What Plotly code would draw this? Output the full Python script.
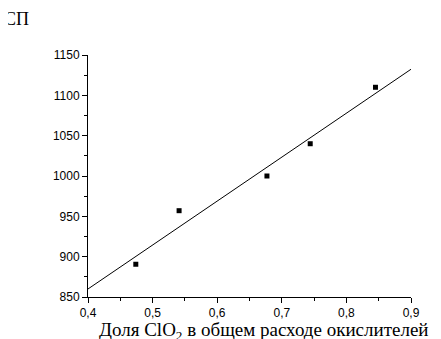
import numpy as np
import plotly.graph_objects as go

share = [0.474, 0.541, 0.677, 0.744, 0.845]
values = [890.6, 957, 1000, 1040, 1110]
x_ticks = [0.4, 0.5, 0.6, 0.7, 0.8, 0.9]
x_labels = ["0,4", "0,5", "0,6", "0,7", "0,8", "0,9"]
y_ticks = [850, 900, 950, 1000, 1050, 1100, 1150]

k, b = np.polyfit(share, values, 1)
fit_x = [0.4, 0.9]
fit_y = [k * v + b for v in fit_x]

fig = go.Figure()
fig.add_trace(go.Scatter(x=fit_x, y=fit_y, mode="lines",
                         line=dict(color="black", width=1), showlegend=False))
fig.add_trace(go.Scatter(x=share, y=values, mode="markers",
                         marker=dict(symbol="square", size=5, color="black"),
                         showlegend=False))

axis_common = dict(showgrid=False, zeroline=False, showline=True, linecolor="black",
                   linewidth=1, ticks="outside", tickcolor="black", ticklen=5,
                   tickfont=dict(family="Liberation Sans, Arial", size=12, color="black"))

fig.update_xaxes(range=[0.4, 0.9], tickvals=x_ticks, ticktext=x_labels,
                 minor=dict(ticks="outside", ticklen=3, dtick=0.05, tickcolor="black"),
                 **axis_common)
fig.update_yaxes(range=[850, 1150], tickvals=y_ticks,
                 minor=dict(ticks="outside", ticklen=3, dtick=25, tickcolor="black"),
                 **axis_common)

fig.add_annotation(text="Доля ClO<sub>2</sub> в общем расходе окислителей",
                   xref="paper", yref="paper", x=0.028, y=-0.14,
                   xanchor="left", yanchor="middle", showarrow=False,
                   font=dict(family="Liberation Serif, Times New Roman", size=19, color="black"))
fig.add_annotation(text="СП", xref="paper", yref="paper", x=-0.267, y=1.149,
                   xanchor="left", yanchor="middle", showarrow=False,
                   font=dict(family="Liberation Serif, Times New Roman", size=18, color="black"))

fig.update_layout(width=441, height=339, plot_bgcolor="white", paper_bgcolor="white",
                  margin=dict(l=80, r=38, t=47, b=50))
fig.write_html("out.html")
